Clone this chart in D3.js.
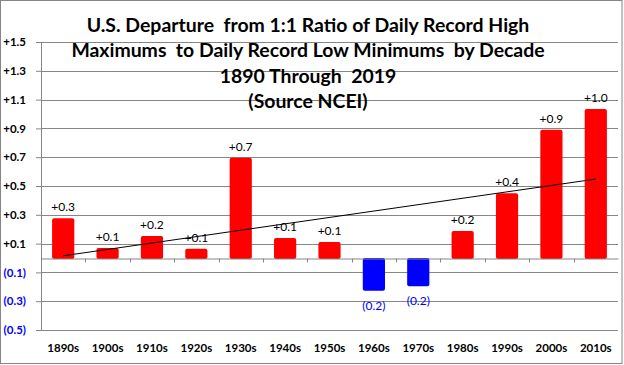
<!DOCTYPE html>
<html><head><meta charset="utf-8">
<script src="https://cdn.jsdelivr.net/npm/d3@7"></script>
<style>html,body{margin:0;padding:0;background:#fff}svg{display:block}</style>
</head><body>
<script>
const decades = ["1890s","1900s","1910s","1920s","1930s","1940s","1950s","1960s","1970s","1980s","1990s","2000s","2010s"];
const departures = [0.276, 0.069, 0.153, 0.065, 0.697, 0.139, 0.111, -0.22, -0.19, 0.187, 0.449, 0.891, 1.035];
const yTicks = [1.5, 1.3, 1.1, 0.9, 0.7, 0.5, 0.3, 0.1, -0.1, -0.3, -0.5];
const titleLines = ["U.S. Departure  from 1:1 Ratio of Daily Record High", "Maximums  to Daily Record Low Minimums  by Decade", "1890 Through  2019", "(Source NCEI)"];

const W = 624, H = 365;
const m = {left: 41, right: 6, top: 42, bottom: 35};
const svg = d3.select("body").append("svg").attr("width", W).attr("height", H);
svg.append("rect").attr("x", 0.5).attr("y", 0.5).attr("width", 621.5).attr("height", 363).attr("fill", "#fff").attr("stroke", "#868686").attr("stroke-width", 1);

const x = d3.scaleBand().domain(decades).range([m.left, W - m.right]).paddingInner(0.5).paddingOuter(0.25);
const xb = d3.scaleBand().domain(decades).range([m.left, W - m.right]);
const y = d3.scaleLinear().domain([-0.5, 1.5]).range([H - m.bottom, m.top]);
const fmt = v => v < 0 ? "(" + Math.abs(v).toFixed(1) + ")" : "+" + v.toFixed(1);
const font = "Lato, 'Open Sans', sans-serif";
const grey = "#868686";

// gridlines + y axis
const yAxis = d3.axisLeft(y).tickValues(yTicks).tickSize(5).tickFormat(fmt);
const gy = svg.append("g").attr("transform", `translate(${m.left},0)`).call(yAxis);
gy.select(".domain").attr("stroke", grey);
gy.selectAll(".tick line").attr("stroke", grey);
gy.selectAll(".tick text").attr("x", -15).attr("font-family", font).attr("font-size", 11.5).attr("font-weight", "bold")
  .attr("fill", d => d < 0 ? "#0000FF" : "#000");
svg.append("g").selectAll("line").data(yTicks).join("line")
  .attr("x1", m.left).attr("x2", W - m.right).attr("y1", d => Math.round(y(d)) + 0.5).attr("y2", d => Math.round(y(d)) + 0.5)
  .attr("stroke", grey).attr("stroke-width", 1);

// bars
svg.append("g").selectAll("rect").data(decades).join("rect")
  .attr("x", (d) => x(d)).attr("width", x.bandwidth())
  .attr("y", (d, i) => y(Math.max(0, departures[i])))
  .attr("height", (d, i) => Math.abs(y(departures[i]) - y(0)) + 1)
  .attr("rx", 2)
  .attr("fill", (d, i) => departures[i] < 0 ? "#0000FF" : "#FF0000");

// zero axis with ticks at band boundaries
const y0 = Math.round(y(0)) + 0.5;
const gx = svg.append("g").attr("transform", `translate(0,${y0})`)
  .call(d3.axisBottom(xb).tickSizeOuter(0).tickSizeInner(0).tickFormat(""));
gx.select(".domain").attr("stroke", grey);
gx.selectAll(".tick").remove();
svg.append("g").selectAll("line").data(decades.slice(1)).join("line")
  .attr("x1", d => Math.round(xb(d)) + 0.5).attr("x2", d => Math.round(xb(d)) + 0.5)
  .attr("y1", y0).attr("y2", y0 + 4).attr("stroke", grey);

// category labels
svg.append("g").selectAll("text").data(decades).join("text")
  .attr("x", d => xb(d) + xb.bandwidth() / 2).attr("y", 352)
  .attr("text-anchor", "middle").attr("font-family", font).attr("font-size", 11.5).attr("font-weight", "bold")
  .text(d => d);

// trendline (least squares on the series)
const n = departures.length;
const mx = d3.mean(d3.range(n)), my = d3.mean(departures);
const slope = d3.sum(d3.range(n), i => (i - mx) * (departures[i] - my)) / d3.sum(d3.range(n), i => (i - mx) ** 2);
const icpt = my - slope * mx;
svg.append("line")
  .attr("x1", xb(decades[0]) + xb.bandwidth() / 2).attr("y1", y(icpt))
  .attr("x2", xb(decades[n - 1]) + xb.bandwidth() / 2).attr("y2", y(icpt + slope * (n - 1)))
  .attr("stroke", "#000").attr("stroke-width", 1);

// data labels
svg.append("g").selectAll("text").data(decades).join("text")
  .attr("x", d => xb(d) + xb.bandwidth() / 2)
  .attr("y", (d, i) => departures[i] < 0 ? y(departures[i]) + 20 : y(departures[i]) - 7)
  .attr("text-anchor", "middle").attr("font-family", font).attr("font-size", 12)
  .attr("fill", (d, i) => departures[i] < 0 ? "#0000FF" : "#000")
  .text((d, i) => fmt(departures[i]));

// title
const tg = svg.append("g");
const baselines = [32, 57, 83, 108];
const tt = tg.selectAll("text").data(titleLines).join("text")
  .attr("x", 308).attr("y", (d, i) => baselines[i]).attr("text-anchor", "middle")
  .attr("font-family", font).attr("font-weight", "bold").attr("font-size", 18)
  .attr("xml:space", "preserve").style("white-space", "pre")
  .text(d => d);
const w0 = tt.node().getComputedTextLength();
const fs = 18 * 443 / w0;
tt.attr("font-size", fs);
</script>
</body></html>
